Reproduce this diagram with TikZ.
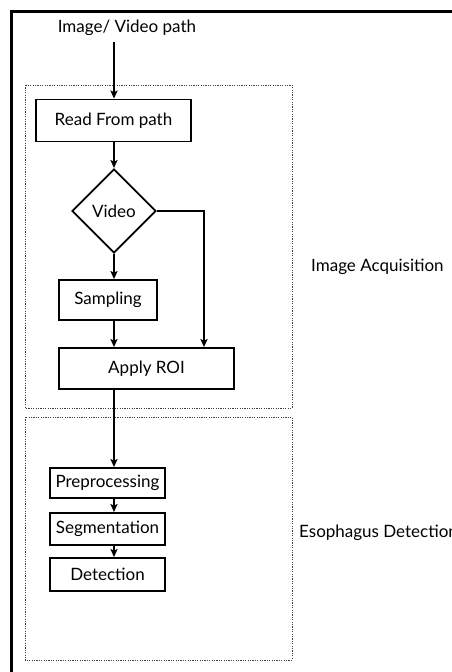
\documentclass[tikz,border=0pt]{standalone}
\usepackage{fontspec}
\setmainfont{Lato}
\usetikzlibrary{shapes.geometric,positioning,calc,arrows.meta}

\begin{document}
\begin{tikzpicture}[x=1pt, y=-1pt]%
        \tikzstyle{stage}=[draw=black, line width=1.8pt, rectangle, inner sep=0pt, font=\fontsize{17}{20}\selectfont];%
        \tikzstyle{label}=[inner sep=0pt, font=\fontsize{17}{20}\selectfont];%
        \tikzstyle{group}=[draw=black!75, line width=0.8pt, dash pattern=on 1.2pt off 1.2pt];%
        \tikzstyle{flow}=[->, >={Stealth[length=8pt, width=7pt, inset=1.5pt]}, line width=1.6pt];%
        \useasboundingbox (0, 0) rectangle (452, 672);
        \clip (0, 0) rectangle (452, 672);

        % outer frame, cut by the page
        \draw[line width=3pt] (11.5, 700) -- (11.5, 11.5) -- (480, 11.5);

        % groups
        \draw[group] (25, 85) rectangle (292, 408);
        \draw[group] (25, 417) rectangle (292, 660);
        \node[label, anchor=west] (acq) at (311, 267) {Image Acquisition};
        \node[label, anchor=west] (eso) at (299, 533) {Esophagus Detection};

        \node[label] (src) at (127, 28) {Image/ Video path};

        \node[stage, minimum width=155pt, minimum height=42pt] (read) at (113.5, 120.5) {Read From path};
        \node[stage, diamond, minimum width=84pt, minimum height=84pt] (video) at (114, 211) {Video};
        \node[stage, minimum width=98pt, minimum height=40pt] (samp) at (108, 300) {Sampling};
        \node[stage, minimum width=175pt, minimum height=41pt] (roi) at (146.5, 368.5) {Apply ROI};

        \node[stage, minimum width=115pt, minimum height=30pt] (pre) at (107.5, 483) {Preprocessing};
        \node[stage, minimum width=115pt, minimum height=32pt] (seg) at (107.5, 529) {Segmentation};
        \node[stage, minimum width=115pt, minimum height=33pt] (det) at (107.5, 574.5) {Detection};

        \coordinate (top) at (114, 42);
        \coordinate (bend) at (204, 211);

        \draw[flow] (top) -- (top |- read.north);
        \draw[flow] (read.south -| video.north) -- (video.north);
        \draw[flow] (video.south) -- (video.south |- samp.north);
        \draw[flow] (samp.south -| video.south) -- (video.south |- roi.north);
        \draw[flow] (video.east) -- (bend) -- (bend |- roi.north);
        \draw[flow] (roi.south -| video.south) -- (video.south |- pre.north);
        \draw[flow] (pre.south -| video.south) -- (video.south |- seg.north);
        \draw[flow] (seg.south -| video.south) -- (video.south |- det.north);
    \end{tikzpicture}
\end{document}
